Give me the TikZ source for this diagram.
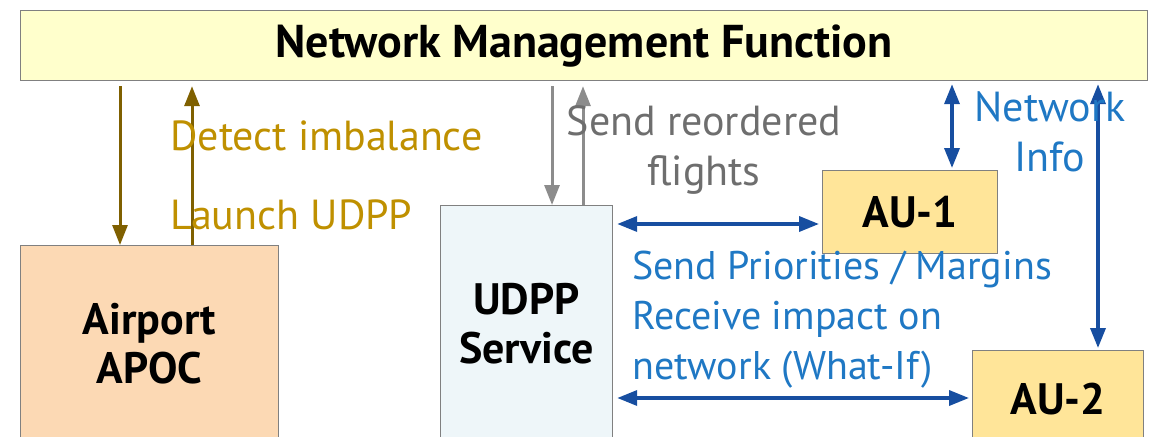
\documentclass[tikz,border=0pt]{standalone}
\usepackage{fontspec}
\setmainfont{PT Sans}
\usetikzlibrary{arrows.meta}
\definecolor{nmfill}{HTML}{FFFFCC}
\definecolor{apocfill}{HTML}{FCD9B4}
\definecolor{udppfill}{HTML}{EEF6F9}
\definecolor{aufill}{HTML}{FFE599}
\definecolor{edge}{HTML}{808080}
\definecolor{brn}{HTML}{7F6000}
\definecolor{brntext}{HTML}{BF9000}
\definecolor{gry}{HTML}{8C8C8C}
\definecolor{grytext}{HTML}{6E6E6E}
\definecolor{blu}{HTML}{174EA0}
\definecolor{blutext}{HTML}{1F78C4}
\tikzset{
  box/.style={draw=edge, line width=1.2pt, anchor=north west, inner sep=0pt,
    font=\fontsize{44}{49}\selectfont\bfseries, align=center},
  tip/.style={-{Triangle[length=20pt,width=15pt]}},
  dtip/.style={{Triangle[length=20pt,width=15pt]}-{Triangle[length=20pt,width=15pt]}},
  brnarrow/.style={brn, line width=3pt, tip},
  gryarrow/.style={gry, line width=3pt, tip},
  bluarrow/.style={blu, line width=3.5pt, dtip},
  lbl/.style={font=\fontsize{42}{50}\selectfont, inner sep=0pt},
}
\begin{document}
\begin{tikzpicture}[x=1pt, y=-1pt]
\useasboundingbox (0,0) rectangle (1155,436);
\clip (0,0) rectangle (1155,436);

% boxes
\node[box, fill=nmfill, minimum width=1127pt, minimum height=70pt,
  font=\fontsize{46}{50}\selectfont\bfseries] (nm) at (20,10) {Network Management Function};
\node[box, fill=apocfill, minimum width=258pt, minimum height=197pt] (apoc) at (20,245) {Airport\\APOC};
\node[box, fill=udppfill, minimum width=172pt, minimum height=237pt] (udpp) at (440,205) {UDPP\\Service};
\node[box, fill=aufill, minimum width=175pt, minimum height=83pt] (au1) at (822,170) {AU-1};
\node[box, fill=aufill, minimum width=171pt, minimum height=96pt] (au2) at (972,350) {AU-2};

% airport <-> network management
\draw[brnarrow] (nm.south -| 120,0) ++(0,5) -- (apoc.north -| 120,0);
\draw[brnarrow] (apoc.north -| 192,0) -- ([yshift=-5pt]nm.south -| 192,0);
\node[lbl, text=brntext, anchor=west] (detect) at (170,136) {Detect imbalance};
\node[lbl, text=brntext, anchor=west] (launch) at (170,215) {Launch UDPP};

% udpp service <-> network management
\draw[gryarrow] (nm.south -| 552,0) ++(0,5) -- (udpp.north -| 552,0);
\draw[gryarrow] (udpp.north -| 583,0) -- ([yshift=-5pt]nm.south -| 583,0);
\node[lbl, text=grytext, align=center] (reorder) at (704,150) {Send reordered\\flights};

% airspace users
\draw[bluarrow] ([xshift=4pt]udpp.east |- 0,224) -- ([xshift=-3pt]au1.west |- 0,224);
\draw[bluarrow] ([xshift=4pt]udpp.east |- 0,398) -- ([xshift=-3pt]au2.west |- 0,398);
\draw[bluarrow] ([yshift=-3pt]nm.south -| 952,0) -- ([yshift=2pt]au1.north -| 952,0);
\draw[bluarrow] ([yshift=-3pt]nm.south -| 1098,0) -- ([yshift=2pt]au2.north -| 1098,0);
\node[lbl, text=blutext, align=center] (netinfo) at (1050,132) {Network\\Info};
\node[lbl, text=blutext, align=left, anchor=north west,
  font=\fontsize{40}{50}\selectfont] (prio) at (632,251) {Send Priorities / Margins\\Receive impact on\\network (What-If)};
\end{tikzpicture}
\end{document}
